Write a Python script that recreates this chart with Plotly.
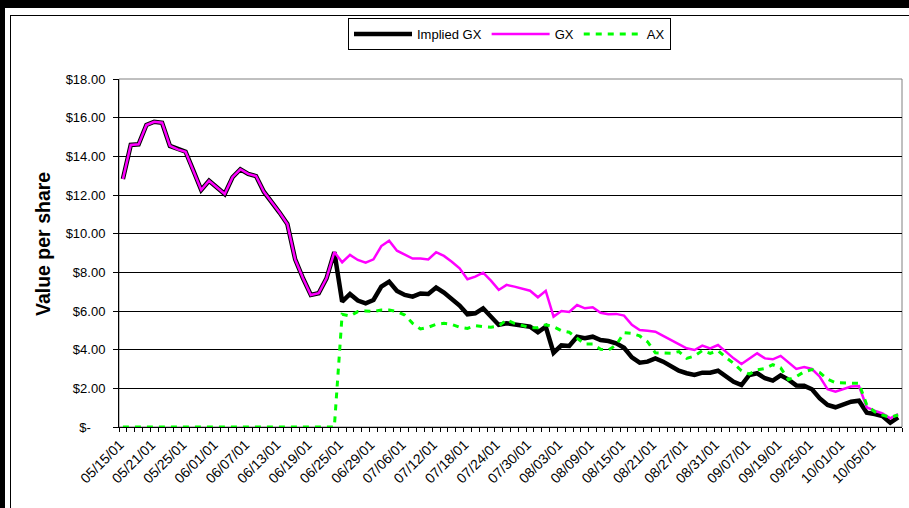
import plotly.graph_objects as go

# Trading days shown on the category axis
dates = [
    "05/15/01", "05/16/01", "05/17/01", "05/18/01", "05/21/01", "05/22/01", "05/23/01", "05/24/01",
    "05/25/01", "05/29/01", "05/30/01", "05/31/01",
    "06/01/01", "06/04/01", "06/05/01", "06/06/01", "06/07/01", "06/08/01", "06/11/01", "06/12/01",
    "06/13/01", "06/14/01", "06/15/01", "06/18/01", "06/19/01", "06/20/01", "06/21/01", "06/22/01",
    "06/25/01", "06/26/01", "06/27/01", "06/28/01", "06/29/01",
    "07/02/01", "07/03/01", "07/05/01", "07/06/01", "07/09/01", "07/10/01", "07/11/01", "07/12/01",
    "07/13/01", "07/16/01", "07/17/01", "07/18/01", "07/19/01", "07/20/01", "07/23/01", "07/24/01",
    "07/25/01", "07/26/01", "07/27/01", "07/30/01", "07/31/01",
    "08/01/01", "08/02/01", "08/03/01", "08/06/01", "08/07/01", "08/08/01", "08/09/01", "08/10/01",
    "08/13/01", "08/14/01", "08/15/01", "08/16/01", "08/17/01", "08/20/01", "08/21/01", "08/22/01",
    "08/23/01", "08/24/01", "08/27/01", "08/28/01", "08/29/01", "08/30/01", "08/31/01",
    "09/04/01", "09/05/01", "09/06/01", "09/07/01", "09/10/01", "09/17/01", "09/18/01", "09/19/01",
    "09/20/01", "09/21/01", "09/24/01", "09/25/01", "09/26/01", "09/27/01", "09/28/01",
    "10/01/01", "10/02/01", "10/03/01", "10/04/01", "10/05/01", "10/08/01", "10/09/01", "10/10/01",
]

# Every fourth trading day carries a label
tick_labels = [d if i % 4 == 0 else "" for i, d in enumerate(dates)]

implied_gx = [
    12.83, 14.59, 14.62, 15.62, 15.79, 15.74, 14.54, 14.36, 14.24, 13.26,
    12.26, 12.74, 12.40, 12.05, 12.92, 13.33, 13.09, 12.98, 12.17, 11.66,
    11.09, 10.50, 8.67, 7.69, 6.83, 6.92, 7.69, 9.05, 6.48, 6.88,
    6.54, 6.40, 6.57, 7.26, 7.52, 7.04, 6.83, 6.74, 6.91, 6.88,
    7.21, 6.95, 6.60, 6.28, 5.83, 5.88, 6.14, 5.71, 5.28, 5.36,
    5.31, 5.26, 5.19, 4.90, 5.19, 3.84, 4.22, 4.19, 4.67, 4.59,
    4.67, 4.50, 4.45, 4.33, 4.10, 3.60, 3.33, 3.38, 3.55, 3.38,
    3.12, 2.91, 2.78, 2.69, 2.81, 2.81, 2.91, 2.64, 2.34, 2.17,
    2.69, 2.78, 2.52, 2.40, 2.67, 2.45, 2.15, 2.13, 1.95, 1.48,
    1.14, 1.02, 1.14, 1.31, 1.36, 0.74, 0.67, 0.57, 0.22, 0.50,
]

gx = [
    12.83, 14.59, 14.62, 15.62, 15.79, 15.74, 14.54, 14.36, 14.24, 13.26,
    12.26, 12.74, 12.40, 12.05, 12.92, 13.33, 13.09, 12.98, 12.17, 11.66,
    11.09, 10.50, 8.67, 7.69, 6.83, 6.92, 7.69, 9.05, 8.52, 8.90,
    8.64, 8.50, 8.67, 9.36, 9.64, 9.12, 8.90, 8.71, 8.71, 8.67,
    9.04, 8.85, 8.55, 8.21, 7.64, 7.78, 7.98, 7.57, 7.09, 7.35,
    7.26, 7.14, 7.05, 6.71, 7.04, 5.71, 6.00, 5.95, 6.31, 6.14,
    6.19, 5.91, 5.83, 5.85, 5.76, 5.28, 5.02, 4.98, 4.93, 4.71,
    4.50, 4.29, 4.07, 3.98, 4.21, 4.07, 4.24, 3.90, 3.55, 3.26,
    3.55, 3.81, 3.55, 3.50, 3.68, 3.33, 3.00, 3.10, 3.00, 2.60,
    1.95, 1.83, 1.95, 2.09, 2.12, 1.02, 0.84, 0.71, 0.45, 0.67,
]

ax = [
    0.00, 0.00, 0.00, 0.00, 0.00, 0.00, 0.00, 0.00, 0.00, 0.00,
    0.00, 0.00, 0.00, 0.00, 0.00, 0.00, 0.00, 0.00, 0.00, 0.00,
    0.00, 0.00, 0.00, 0.00, 0.00, 0.00, 0.00, 0.00, 5.83, 5.74,
    5.97, 6.00, 5.97, 6.05, 6.05, 5.97, 5.79, 5.36, 5.07, 5.16,
    5.31, 5.36, 5.31, 5.16, 5.10, 5.24, 5.19, 5.16, 5.22, 5.54,
    5.36, 5.24, 5.14, 5.14, 5.29, 5.19, 4.98, 4.90, 4.59, 4.29,
    4.29, 4.02, 3.98, 4.24, 4.88, 4.84, 4.71, 4.41, 3.84, 3.81,
    3.81, 3.90, 3.55, 3.67, 3.95, 3.81, 3.95, 3.60, 3.29, 2.91,
    2.74, 2.95, 3.03, 3.22, 3.06, 2.45, 2.60, 2.86, 2.97, 2.81,
    2.47, 2.29, 2.29, 2.29, 2.26, 1.14, 0.79, 0.62, 0.50, 0.62,
]

y_ticks = [0, 2, 4, 6, 8, 10, 12, 14, 16, 18]
y_tick_text = ["$-\u2007\u2007"] + [f"${v:.2f}" for v in y_ticks[1:]]

FONT = "Liberation Sans, Arial, sans-serif"

W, H = 909, 508
PL, PR, PT, PB = 119, 902, 79, 427   # plot-area edges in pixels


def px_x(x):
    return (x - PL) / (PR - PL)


def px_y(y):
    return (PB - y) / (PB - PT)


fig = go.Figure()
fig.add_trace(go.Scatter(
    x=dates, y=implied_gx, name="Implied GX", mode="lines",
    line=dict(color="#000000", width=4.5),
))
fig.add_trace(go.Scatter(
    x=dates, y=gx, name="GX", mode="lines",
    line=dict(color="#FF00FF", width=2.5),
))
fig.add_trace(go.Scatter(
    x=dates, y=ax, name="AX", mode="lines",
    line=dict(color="#00FF00", width=3, dash="6px,6px"),
))

shapes = [
    # plot-area border
    dict(type="rect", xref="paper", yref="paper", x0=0, x1=1, y0=0, y1=1,
         line=dict(color="#808080", width=1), layer="below"),
]


def frame_rect(x0, y0, x1, y1):
    return dict(type="rect", xref="paper", yref="paper",
                x0=px_x(x0), x1=px_x(x1), y0=px_y(y1), y1=px_y(y0),
                fillcolor="#000000", line=dict(width=0), layer="above")


# outer page frame
shapes += [
    frame_rect(0, 0, 909, 8),
    frame_rect(0, 0, 5, 508),
    frame_rect(10, 15, 11, 508),
    frame_rect(10, 15, 909, 16),
]

fig.update_layout(
    width=W, height=H,
    margin=dict(l=PL, r=W - PR, t=PT, b=H - PB, autoexpand=False),
    paper_bgcolor="#FFFFFF",
    plot_bgcolor="#FFFFFF",
    font=dict(family=FONT, size=13, color="#000000"),
    showlegend=True,
    legend=dict(
        orientation="h",
        x=px_x(348), xanchor="left",
        y=px_y(18), yanchor="top",
        bgcolor="#FFFFFF",
        bordercolor="#000000", borderwidth=1,
        font=dict(family=FONT, size=13, color="#000000"),
        itemwidth=58,
        tracegroupgap=0,
    ),
    xaxis=dict(
        type="category",
        tickmode="array",
        tickvals=dates,
        ticktext=tick_labels,
        tickson="boundaries",
        ticks="outside", ticklen=4, tickcolor="#000000", tickwidth=1,
        tickangle=-45,
        ticklabelshift=-3,
        ticklabelstandoff=3,
        tickfont=dict(family=FONT, size=14, color="#000000"),
        showline=True, linecolor="#000000", linewidth=1,
        showgrid=False, zeroline=False,
        range=[-0.5, len(dates) - 0.5],
    ),
    yaxis=dict(
        range=[0, 18],
        tickmode="array",
        tickvals=y_ticks,
        ticktext=y_tick_text,
        ticks="outside", ticklen=5, tickcolor="#000000", tickwidth=1,
        ticklabelstandoff=5,
        tickfont=dict(family=FONT, size=13, color="#000000"),
        showline=True, linecolor="#000000", linewidth=1,
        showgrid=True, gridcolor="#000000", gridwidth=1,
        zeroline=False,
    ),
    shapes=shapes,
    annotations=[
        dict(
            text="<b>Value per share</b>", textangle=-90,
            xref="paper", yref="paper",
            x=px_x(43), y=px_y(244),
            xanchor="center", yanchor="middle",
            showarrow=False,
            font=dict(family=FONT, size=19.5, color="#000000"),
        )
    ],
)

fig.write_html("out.html")
